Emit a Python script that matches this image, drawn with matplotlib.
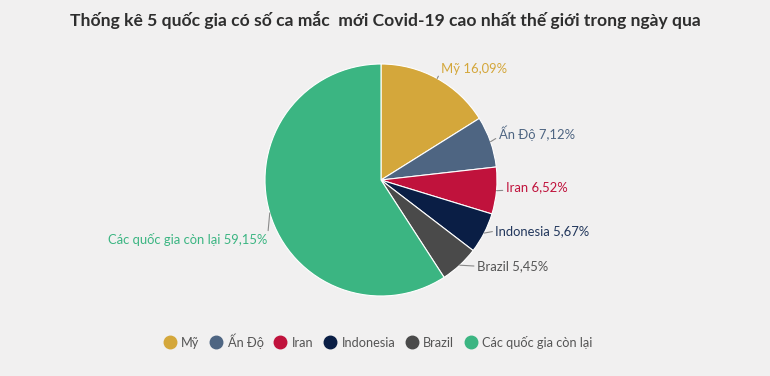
import matplotlib
matplotlib.use('Agg')
import matplotlib.pyplot as plt
from matplotlib.lines import Line2D
import numpy as np

plt.rcParams['font.family'] = ['Lato', 'DejaVu Sans']

countries = ['Mỹ', 'Ấn Độ', 'Iran', 'Indonesia', 'Brazil', 'Các quốc gia còn lại']
shares = [16.09, 7.12, 6.52, 5.67, 5.45, 59.15]
colors = ['#D4A73B', '#4E6582', '#C0123C', '#0A1E45', '#4A4A4A', '#3BB582']
text_colors = ['#D4A73B', '#4E6582', '#C0123C', '#22375C', '#555555', '#3BB582']
title = 'Thống kê 5 quốc gia có số ca mắc  mới Covid-19 cao nhất thế giới trong ngày qua'

# label offsets from slice edge, pixels (dx, dy), alignment and where the connector meets the text
offsets = [(4, 10), (8, 8), (9, 4), (11, 2), (17, -1), (-2, -27)]
aligns = ['left', 'left', 'left', 'left', 'left', 'right']
relpos = [(0, 0.3), (0, 0.3), (0, 0.2), (0, 0.5), (0, 0.5), (1, 0.9)]

W, H = 770, 376
bg = '#F1F0F0'
fig = plt.figure(figsize=(W / 100, H / 100), dpi=100, facecolor=bg)

cx, cy, r = 381, 376 - 180, 116
ax = fig.add_axes([(cx - r) / W, (cy - r) / H, 2 * r / W, 2 * r / H])
ax.set_facecolor(bg)
wedges, _ = ax.pie(shares, colors=colors, startangle=90, counterclock=False,
                   radius=1, wedgeprops=dict(edgecolor='white', linewidth=0.8))
ax.set_xlim(-1, 1)
ax.set_ylim(-1, 1)
ax.set_aspect('equal')
ax.axis('off')

for w, name, val, tc, (dx, dy), ha, rp in zip(wedges, countries, shares, text_colors,
                                              offsets, aligns, relpos):
    mid = np.deg2rad((w.theta1 + w.theta2) / 2)
    x, y = np.cos(mid), np.sin(mid)
    label = f'{name} {val:.2f}'.replace('.', ',') + '%'
    ax.annotate(label, xy=(x, y), xytext=(dx, dy), textcoords='offset pixels',
                ha=ha, va='center', fontsize=9.4, color=tc,
                arrowprops=dict(arrowstyle='-', color='#8a8a8a', lw=0.8,
                                shrinkA=0, shrinkB=0, relpos=rp))

fig.text(0.5, 1 - 20 / H, title, ha='center', va='center', fontsize=12.6,
         fontweight='bold', color='#2e2e2e')

handles = [Line2D([0], [0], marker='o', linestyle='', markersize=9,
                  markerfacecolor=c, markeredgecolor=c) for c in colors]
leg = fig.legend(handles, countries, loc='center', bbox_to_anchor=(0.49, 1 - 341 / H),
                 ncol=6, frameon=False, fontsize=9.2, handletextpad=0.3,
                 columnspacing=0.7, handlelength=1.2)
for t in leg.get_texts():
    t.set_color('#555555')

fig.savefig('out.png', dpi=100, facecolor=bg)
